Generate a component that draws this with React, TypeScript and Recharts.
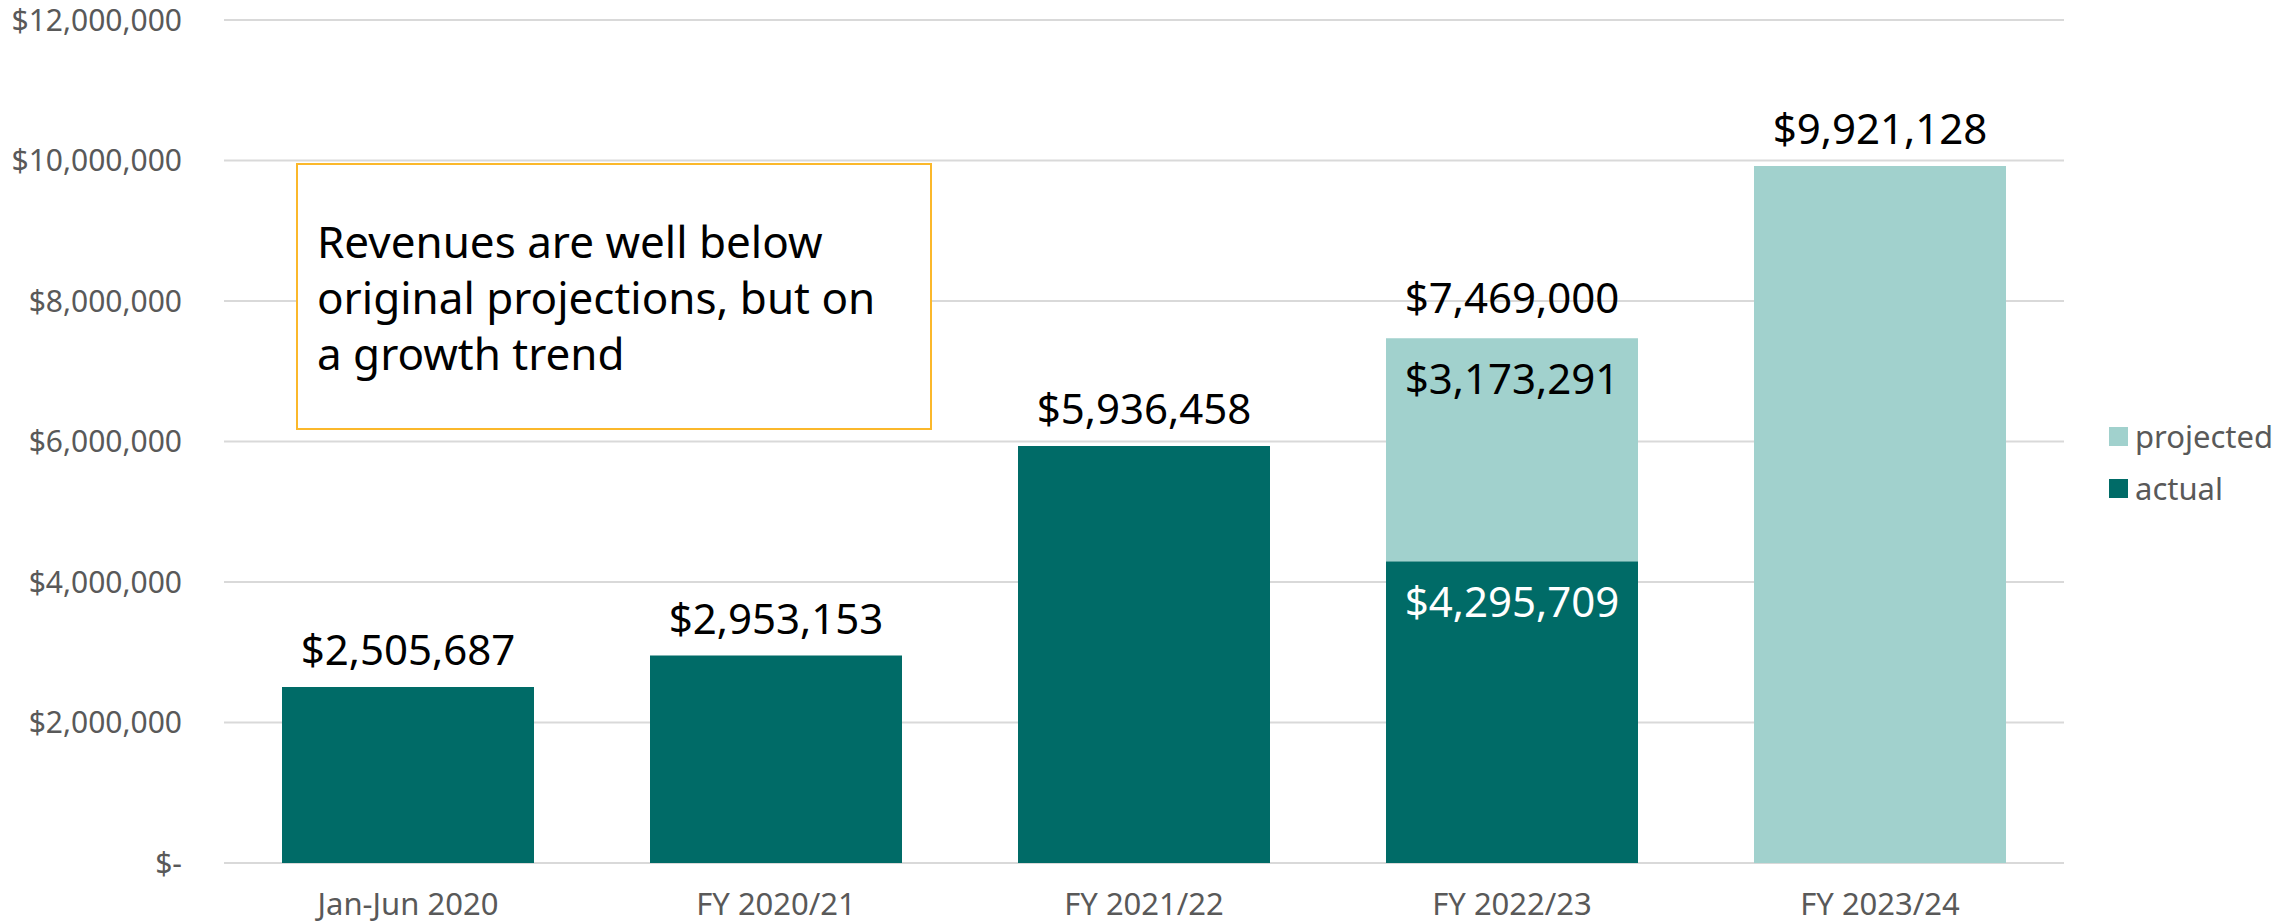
import { BarChart, Bar, XAxis, YAxis, CartesianGrid, Legend, LabelList } from 'recharts';

const periods = ['Jan-Jun 2020', 'FY 2020/21', 'FY 2021/22', 'FY 2022/23', 'FY 2023/24'];
const actual: (number | null)[] = [2505687, 2953153, 5936458, 4295709, null];
const projected: (number | null)[] = [null, null, null, 3173291, 9921128];
const yTicks = [0, 2000000, 4000000, 6000000, 8000000, 10000000, 12000000];

const DARK = '#006B67';
const LIGHT = '#A1D1CD';
const FONT = '"Noto Sans", "Open Sans", sans-serif';

const data = periods.map((period, i) => ({ period, actual: actual[i], projected: projected[i] }));

function money(v: number): string {
  if (!v) return '$-';
  return '$' + v.toLocaleString('en-US');
}

// labels are keyed by period name, so look values up from the arrays
function actualLabel(props: any) {
  const { x, y, width, value } = props;
  const i = periods.indexOf(value);
  const v = actual[i];
  if (i < 0 || v == null) return null;
  const stacked = projected[i] != null;
  return (
    <text
      x={x + width / 2}
      y={stacked ? y + 56 : y - 22}
      textAnchor="middle"
      fontSize={42}
      fontFamily={FONT}
      fill={stacked ? '#FFFFFF' : '#000000'}
    >
      {money(v)}
    </text>
  );
}

function projectedLabel(props: any) {
  const { x, y, width, value } = props;
  const i = periods.indexOf(value);
  const v = projected[i];
  if (i < 0 || v == null) return null;
  const base = actual[i];
  const cx = x + width / 2;
  if (base != null) {
    return (
      <g>
        <text x={cx} y={y + 56} textAnchor="middle" fontSize={42} fontFamily={FONT} fill="#000">
          {money(v)}
        </text>
        <text x={cx} y={y - 25} textAnchor="middle" fontSize={42} fontFamily={FONT} fill="#000">
          {money(base + v)}
        </text>
      </g>
    );
  }
  return (
    <text x={cx} y={y - 22} textAnchor="middle" fontSize={42} fontFamily={FONT} fill="#000">
      {money(v)}
    </text>
  );
}

const legendItems = [
  { name: 'projected', color: LIGHT },
  { name: 'actual', color: DARK },
];

function renderLegend() {
  return (
    <div style={{ fontFamily: FONT, fontSize: 31, color: '#595959' }}>
      {legendItems.map((it) => (
        <div key={it.name} style={{ display: 'flex', alignItems: 'center', height: 52 }}>
          <span style={{ width: 19, height: 19, background: it.color, marginRight: 7, display: 'inline-block' }} />
          <span>{it.name}</span>
        </div>
      ))}
    </div>
  );
}

export default function App() {
  return (
    <div style={{ position: 'absolute', left: 0, top: 0, width: 2279, height: 923, background: '#fff' }}>
      <BarChart width={2279} height={923} data={data} margin={{ top: 20, right: 215, bottom: 30, left: 0 }}>
        <CartesianGrid vertical={false} stroke="#D9D9D9" strokeWidth={2} />
        <XAxis
          dataKey="period"
          height={30}
          axisLine={false}
          tickLine={false}
          tickSize={0}
          tickMargin={30}
          tick={{ fontSize: 31, fill: '#595959', fontFamily: FONT }}
        />
        <YAxis
          domain={[0, 12000000]}
          ticks={yTicks}
          width={224}
          axisLine={false}
          tickLine={false}
          tickSize={0}
          tickMargin={42}
          tickFormatter={money}
          tick={{ fontSize: 30, fill: '#595959', fontFamily: FONT }}
        />
        <Legend
          layout="vertical"
          align="center"
          verticalAlign="middle"
          content={renderLegend}
          wrapperStyle={{ left: 2109, top: 410, width: 170 }}
        />
        <Bar dataKey="actual" stackId="rev" fill={DARK} barSize={252} isAnimationActive={false}>
          <LabelList dataKey="period" content={actualLabel} />
        </Bar>
        <Bar dataKey="projected" stackId="rev" fill={LIGHT} barSize={252} isAnimationActive={false}>
          <LabelList dataKey="period" content={projectedLabel} />
        </Bar>
      </BarChart>
      <div
        style={{
          position: 'absolute',
          left: 296,
          top: 163,
          width: 636,
          height: 267,
          boxSizing: 'border-box',
          border: '2.5px solid #FBB82B',
          background: '#fff',
          display: 'flex',
          alignItems: 'center',
          paddingLeft: 19,
          fontFamily: FONT,
          fontSize: 44,
          lineHeight: '56px',
          color: '#000',
        }}
      >
        <div>
          Revenues are well below
          <br />
          original projections, but on
          <br />
          a growth trend
        </div>
      </div>
    </div>
  );
}
